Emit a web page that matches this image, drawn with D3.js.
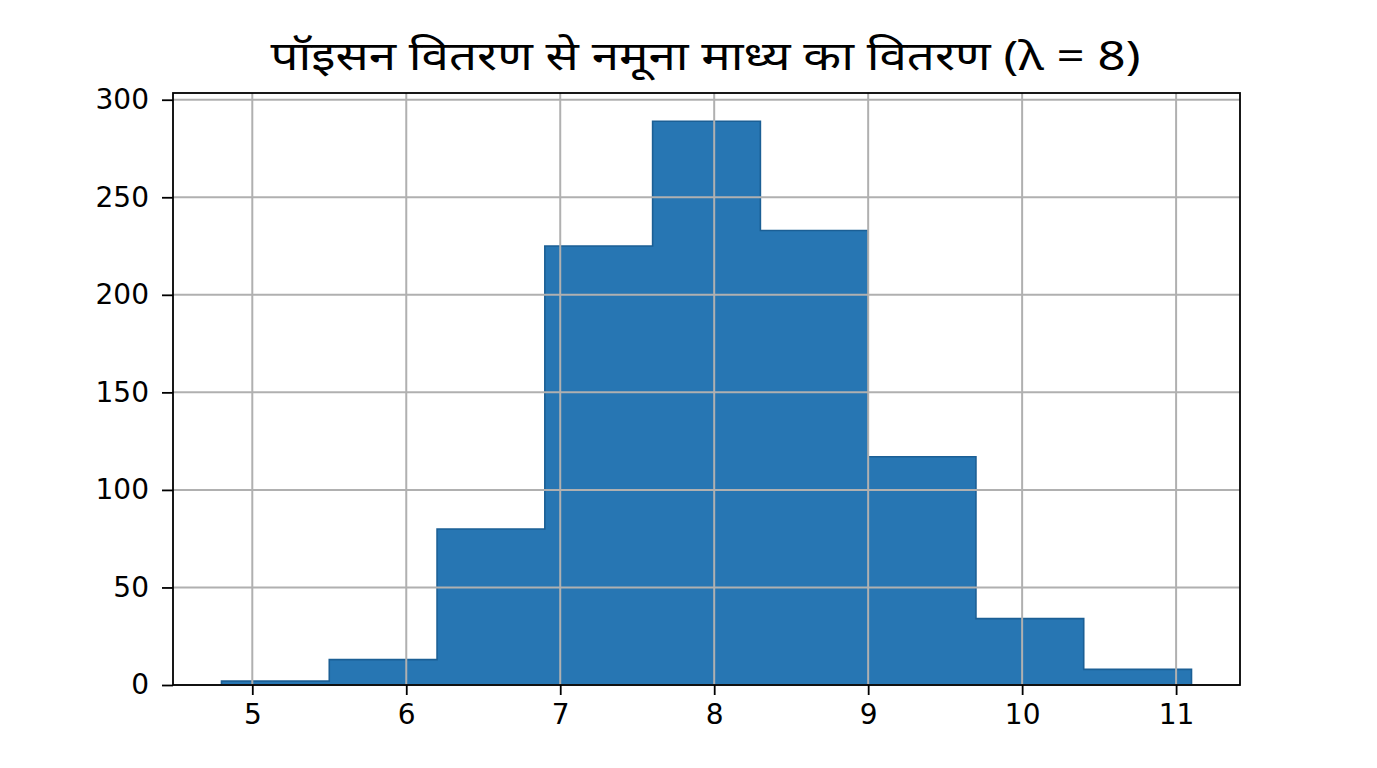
<!DOCTYPE html>
<html><head><meta charset="utf-8">
<script src="https://cdn.jsdelivr.net/npm/d3@7"></script>
<style>html,body{margin:0;padding:0;background:#fff;}</style>
</head><body>
<svg id="c" width="1377" height="768"></svg>
<script>
const title = "पॉइसन वितरण से नमूना माध्य का वितरण (λ = 8)";
const binEdges = [4.8, 5.5, 6.2, 6.9, 7.6, 8.3, 9.0, 9.7, 10.4, 11.1];
const counts = [2, 13, 80, 225, 289, 233, 117, 34, 8];
const xTicks = [5, 6, 7, 8, 9, 10, 11];
const yTicks = [0, 50, 100, 150, 200, 250, 300];

const svg = d3.select("#c");
const L = 173, R = 1240, T = 93, B = 685;
const span = binEdges[binEdges.length-1] - binEdges[0];
const x = d3.scaleLinear().domain([binEdges[0] - span*0.05, binEdges[binEdges.length-1] + span*0.05]).range([L, R]);
const y = d3.scaleLinear().domain([0, d3.max(counts)*1.05]).range([B, T]);

// stepfilled histogram: one outline polygon
const pts = [[binEdges[0], 0]];
counts.forEach((c,i)=>{ pts.push([binEdges[i], c]); pts.push([binEdges[i+1], c]); });
pts.push([binEdges[binEdges.length-1], 0]);
const line = d3.line().x(d=>x(d[0])).y(d=>y(d[1]));
svg.append("path").attr("d", line(pts) + "Z")
  .attr("fill", "#2776b3").attr("stroke", "#1b5f95").attr("stroke-width", 1.6)
  .attr("stroke-linejoin", "miter");

// grid
const grid = svg.append("g").attr("stroke", "#b0b0b0").attr("stroke-width", 2);
grid.selectAll(".gx").data(xTicks).join("line")
  .attr("x1", d=>x(d)).attr("x2", d=>x(d)).attr("y1", T).attr("y2", B);
grid.selectAll(".gy").data(yTicks).join("line")
  .attr("y1", d=>y(d)).attr("y2", d=>y(d)).attr("x1", L).attr("x2", R);

const font = "'DejaVu Sans', sans-serif";
const xAxis = svg.append("g").attr("transform", `translate(0,${B})`)
  .call(d3.axisBottom(x).tickValues(xTicks).tickSize(10).tickPadding(9).tickFormat(d3.format("d")));
const yAxis = svg.append("g").attr("transform", `translate(${L},0)`)
  .call(d3.axisLeft(y).tickValues(yTicks).tickSize(11).tickPadding(13).tickFormat(d3.format("d")));
[xAxis, yAxis].forEach(a=>{
  a.select(".domain").remove();
  a.selectAll("line").attr("stroke", "#000").attr("stroke-width", 1.8);
  a.selectAll("text").attr("fill", "#000").style("font-family", font).style("font-size", "28px");
});

svg.append("rect").attr("x", L).attr("y", T).attr("width", R-L).attr("height", B-T)
  .attr("fill", "none").attr("stroke", "#000").attr("stroke-width", 1.8);

svg.append("text").attr("x", (L+R)/2 - 1).attr("y", 70).attr("text-anchor", "middle")
  .style("font-family", "'Noto Sans', 'Noto Sans Devanagari', sans-serif").style("font-size", "40px")
  .attr("textLength", 870).attr("lengthAdjust", "spacingAndGlyphs")
  .attr("fill", "#000").text(title);
</script>
</body></html>
